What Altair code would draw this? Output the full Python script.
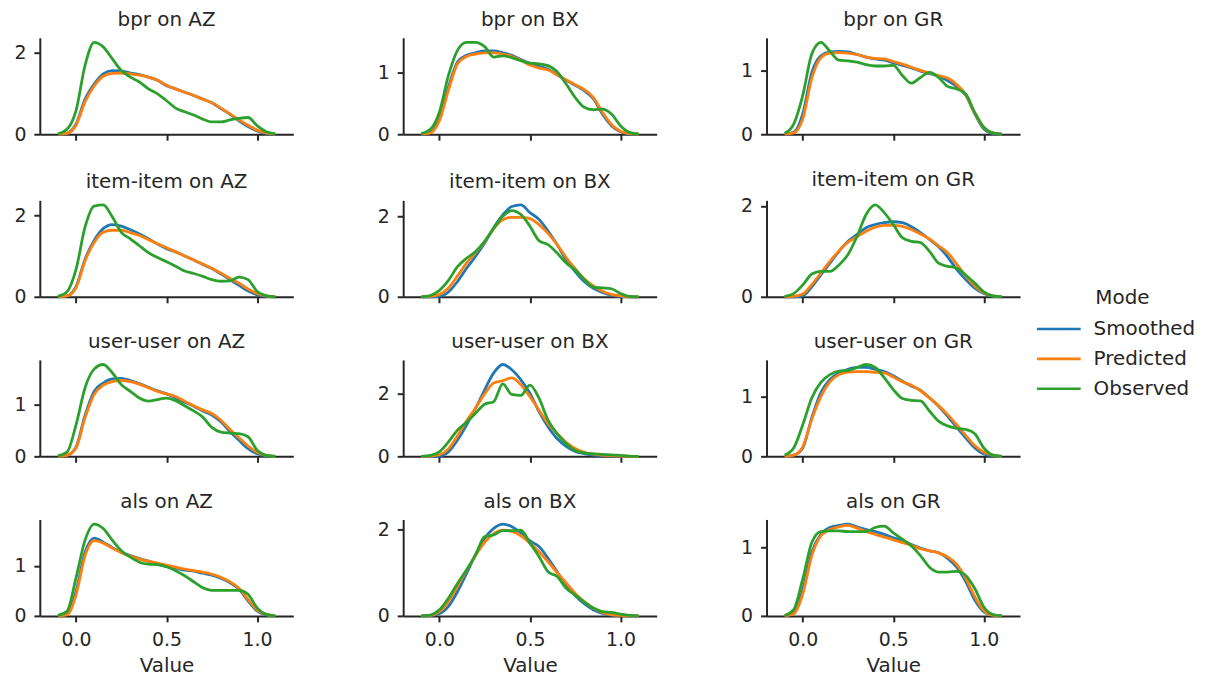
import altair as alt
import pandas as pd

# ---------------- data ----------------
X_GRID = [-0.10, -0.05, 0.00, 0.05, 0.10, 0.15, 0.20, 0.25, 0.30, 0.35, 0.40, 0.45,
          0.50, 0.55, 0.60, 0.65, 0.70, 0.75, 0.80, 0.85, 0.90, 0.95, 1.00, 1.05, 1.10]

MODES = ["Smoothed", "Predicted", "Observed"]
COLORS = ["#1f77b4", "#ff7f0e", "#2ca02c"]

PANEL_TITLES = [
    "bpr on AZ", "bpr on BX", "bpr on GR",
    "item-item on AZ", "item-item on BX", "item-item on GR",
    "user-user on AZ", "user-user on BX", "user-user on GR",
    "als on AZ", "als on BX", "als on GR",
]

Y_TICKS = [[0, 2], [0, 1], [0, 1],
           [0, 2], [0, 2], [0, 2],
           [0, 1], [0, 2], [0, 1],
           [0, 1], [0, 2], [0, 1]]

bpr_AZ_s = [0, 0.02, 0.25, 0.86, 1.23, 1.48, 1.56, 1.55, 1.50, 1.46, 1.40, 1.32, 1.19, 1.11, 1.03, 0.95, 0.86, 0.77, 0.63, 0.49, 0.33, 0.19, 0.08, 0.02, 0]
bpr_AZ_p = [0, 0.02, 0.22, 0.80, 1.18, 1.42, 1.49, 1.50, 1.48, 1.45, 1.40, 1.32, 1.20, 1.11, 1.03, 0.95, 0.86, 0.77, 0.64, 0.50, 0.35, 0.22, 0.10, 0.03, 0]
bpr_AZ_o = [0.01, 0.12, 0.58, 1.69, 2.25, 2.14, 1.85, 1.56, 1.40, 1.28, 1.11, 0.99, 0.82, 0.64, 0.55, 0.47, 0.37, 0.30, 0.30, 0.35, 0.39, 0.41, 0.21, 0.06, 0.01]

bpr_BX_s = [0, 0.03, 0.25, 0.77, 1.18, 1.29, 1.33, 1.36, 1.36, 1.33, 1.29, 1.22, 1.16, 1.11, 1.06, 0.97, 0.88, 0.80, 0.71, 0.58, 0.33, 0.14, 0.04, 0.005, 0]
bpr_BX_p = [0, 0.02, 0.22, 0.72, 1.15, 1.27, 1.31, 1.33, 1.33, 1.31, 1.27, 1.21, 1.13, 1.08, 1.05, 0.97, 0.89, 0.81, 0.73, 0.60, 0.36, 0.16, 0.05, 0.01, 0]
bpr_BX_o = [0.01, 0.08, 0.36, 0.96, 1.37, 1.50, 1.50, 1.43, 1.26, 1.28, 1.25, 1.20, 1.16, 1.15, 1.12, 1.02, 0.82, 0.60, 0.44, 0.40, 0.41, 0.33, 0.14, 0.03, 0]

bpr_GR_s = [0, 0.03, 0.32, 0.97, 1.23, 1.29, 1.30, 1.29, 1.25, 1.21, 1.18, 1.16, 1.12, 1.08, 1.04, 0.99, 0.95, 0.91, 0.84, 0.75, 0.61, 0.32, 0.08, 0.01, 0]
bpr_GR_p = [0, 0.02, 0.24, 0.88, 1.20, 1.27, 1.28, 1.27, 1.25, 1.21, 1.19, 1.18, 1.14, 1.10, 1.05, 1.00, 0.96, 0.92, 0.88, 0.78, 0.62, 0.33, 0.10, 0.02, 0]
bpr_GR_o = [0.015, 0.16, 0.61, 1.26, 1.44, 1.30, 1.16, 1.15, 1.13, 1.09, 1.07, 1.07, 1.08, 0.92, 0.80, 0.89, 0.97, 0.89, 0.75, 0.71, 0.63, 0.34, 0.11, 0.02, 0]

ii_AZ_s = [0, 0.02, 0.25, 0.92, 1.38, 1.67, 1.77, 1.73, 1.64, 1.54, 1.42, 1.29, 1.18, 1.10, 1.00, 0.90, 0.79, 0.69, 0.56, 0.42, 0.28, 0.14, 0.05, 0.01, 0]
ii_AZ_p = [0, 0.02, 0.22, 0.88, 1.33, 1.58, 1.63, 1.63, 1.57, 1.50, 1.40, 1.30, 1.20, 1.10, 1.00, 0.90, 0.80, 0.70, 0.58, 0.45, 0.33, 0.19, 0.08, 0.02, 0]
ii_AZ_o = [0.01, 0.12, 0.67, 1.71, 2.22, 2.25, 1.96, 1.58, 1.42, 1.25, 1.08, 0.96, 0.86, 0.75, 0.63, 0.57, 0.50, 0.42, 0.38, 0.39, 0.48, 0.42, 0.13, 0.03, 0]

ii_BX_s = [0, 0, 0.01, 0.12, 0.38, 0.71, 1.01, 1.34, 1.72, 2.04, 2.25, 2.29, 2.10, 1.93, 1.64, 1.30, 0.92, 0.63, 0.38, 0.21, 0.11, 0.04, 0.01, 0, 0]
ii_BX_p = [0, 0.01, 0.06, 0.22, 0.52, 0.84, 1.10, 1.37, 1.70, 1.92, 1.98, 1.98, 1.95, 1.80, 1.58, 1.30, 0.98, 0.70, 0.45, 0.27, 0.14, 0.06, 0.02, 0, 0]
ii_BX_o = [0, 0.03, 0.16, 0.41, 0.75, 0.96, 1.13, 1.38, 1.71, 2.01, 2.15, 2.05, 1.76, 1.40, 1.30, 1.09, 0.84, 0.67, 0.43, 0.24, 0.22, 0.20, 0.08, 0.01, 0]

ii_GR_s = [0, 0, 0.02, 0.22, 0.48, 0.74, 1.00, 1.22, 1.37, 1.52, 1.59, 1.63, 1.65, 1.63, 1.54, 1.41, 1.26, 1.10, 0.88, 0.60, 0.38, 0.19, 0.07, 0.01, 0]
ii_GR_p = [0, 0.01, 0.06, 0.27, 0.52, 0.78, 1.01, 1.20, 1.32, 1.44, 1.53, 1.57, 1.57, 1.55, 1.48, 1.38, 1.27, 1.12, 0.97, 0.72, 0.46, 0.24, 0.09, 0.02, 0]
ii_GR_o = [0.01, 0.07, 0.26, 0.50, 0.56, 0.56, 0.70, 0.93, 1.33, 1.81, 2.02, 1.85, 1.59, 1.30, 1.22, 1.19, 1.00, 0.74, 0.67, 0.63, 0.48, 0.30, 0.11, 0.02, 0]

uu_AZ_s = [0, 0.02, 0.18, 0.80, 1.26, 1.42, 1.50, 1.51, 1.47, 1.41, 1.34, 1.27, 1.21, 1.13, 1.05, 0.97, 0.88, 0.80, 0.67, 0.48, 0.31, 0.15, 0.05, 0.01, 0]
uu_AZ_p = [0, 0.02, 0.16, 0.75, 1.20, 1.38, 1.45, 1.47, 1.45, 1.40, 1.33, 1.26, 1.21, 1.16, 1.07, 0.98, 0.90, 0.83, 0.70, 0.52, 0.36, 0.20, 0.08, 0.02, 0]
uu_AZ_o = [0.01, 0.08, 0.61, 1.33, 1.69, 1.78, 1.62, 1.39, 1.26, 1.13, 1.07, 1.10, 1.13, 1.08, 0.98, 0.88, 0.76, 0.56, 0.47, 0.45, 0.44, 0.38, 0.12, 0.02, 0]

uu_BX_s = [0, 0, 0.01, 0.14, 0.52, 1.00, 1.54, 2.13, 2.67, 2.94, 2.77, 2.45, 2.02, 1.43, 0.95, 0.57, 0.32, 0.16, 0.09, 0.04, 0.02, 0.01, 0, 0, 0]
uu_BX_p = [0, 0.01, 0.05, 0.24, 0.66, 1.13, 1.55, 2.00, 2.35, 2.42, 2.51, 2.29, 1.91, 1.48, 1.05, 0.73, 0.45, 0.25, 0.13, 0.07, 0.04, 0.02, 0.01, 0, 0]
uu_BX_o = [0, 0.03, 0.14, 0.46, 0.84, 1.09, 1.38, 1.67, 1.75, 2.32, 1.98, 1.95, 2.28, 1.86, 1.16, 0.73, 0.41, 0.19, 0.11, 0.08, 0.06, 0.05, 0.03, 0.01, 0]

uu_GR_s = [0, 0.02, 0.14, 0.65, 1.07, 1.29, 1.40, 1.46, 1.49, 1.49, 1.46, 1.42, 1.35, 1.26, 1.18, 1.11, 0.98, 0.84, 0.67, 0.49, 0.31, 0.14, 0.04, 0.01, 0]
uu_GR_p = [0, 0.02, 0.16, 0.62, 1.00, 1.25, 1.37, 1.41, 1.42, 1.42, 1.41, 1.40, 1.33, 1.25, 1.19, 1.10, 0.98, 0.85, 0.70, 0.53, 0.35, 0.18, 0.07, 0.02, 0]
uu_GR_o = [0.02, 0.14, 0.53, 0.98, 1.24, 1.37, 1.43, 1.44, 1.49, 1.54, 1.49, 1.32, 1.12, 0.97, 0.94, 0.93, 0.76, 0.59, 0.51, 0.47, 0.45, 0.38, 0.14, 0.02, 0]

als_AZ_s = [0, 0.03, 0.49, 1.27, 1.55, 1.47, 1.36, 1.27, 1.20, 1.14, 1.09, 1.03, 0.98, 0.95, 0.91, 0.89, 0.85, 0.81, 0.75, 0.66, 0.53, 0.30, 0.10, 0.02, 0]
als_AZ_p = [0, 0.02, 0.42, 1.20, 1.50, 1.45, 1.35, 1.26, 1.19, 1.13, 1.09, 1.05, 1.01, 0.97, 0.93, 0.90, 0.87, 0.83, 0.77, 0.68, 0.55, 0.33, 0.12, 0.03, 0]
als_AZ_o = [0.01, 0.09, 0.76, 1.51, 1.83, 1.74, 1.51, 1.30, 1.17, 1.07, 1.03, 1.02, 0.98, 0.90, 0.80, 0.68, 0.56, 0.51, 0.51, 0.51, 0.51, 0.43, 0.16, 0.03, 0]

als_BX_s = [0, 0.01, 0.05, 0.22, 0.56, 0.98, 1.42, 1.79, 2.02, 2.12, 2.06, 1.92, 1.73, 1.60, 1.33, 1.02, 0.72, 0.47, 0.28, 0.14, 0.06, 0.02, 0.01, 0, 0]
als_BX_p = [0, 0.01, 0.10, 0.33, 0.68, 1.05, 1.40, 1.70, 1.90, 1.98, 1.95, 1.85, 1.68, 1.48, 1.25, 1.00, 0.76, 0.52, 0.33, 0.18, 0.08, 0.03, 0.01, 0, 0]
als_BX_o = [0, 0.02, 0.14, 0.41, 0.75, 1.06, 1.41, 1.83, 1.87, 1.97, 1.97, 1.98, 1.68, 1.37, 1.02, 0.91, 0.64, 0.48, 0.32, 0.18, 0.10, 0.08, 0.04, 0.01, 0]

als_GR_s = [0, 0.04, 0.38, 0.93, 1.19, 1.29, 1.32, 1.34, 1.30, 1.26, 1.23, 1.19, 1.14, 1.10, 1.04, 0.99, 0.95, 0.92, 0.84, 0.71, 0.50, 0.23, 0.06, 0.01, 0]
als_GR_p = [0, 0.03, 0.32, 0.88, 1.17, 1.26, 1.30, 1.32, 1.28, 1.23, 1.19, 1.15, 1.11, 1.07, 1.03, 0.98, 0.95, 0.92, 0.86, 0.75, 0.55, 0.28, 0.08, 0.01, 0]
als_GR_o = [0.005, 0.09, 0.54, 1.07, 1.23, 1.24, 1.24, 1.23, 1.23, 1.23, 1.29, 1.31, 1.21, 1.12, 1.02, 0.88, 0.71, 0.64, 0.64, 0.65, 0.59, 0.40, 0.13, 0.02, 0]

PANEL_CURVES = [
    (bpr_AZ_s, bpr_AZ_p, bpr_AZ_o), (bpr_BX_s, bpr_BX_p, bpr_BX_o), (bpr_GR_s, bpr_GR_p, bpr_GR_o),
    (ii_AZ_s, ii_AZ_p, ii_AZ_o), (ii_BX_s, ii_BX_p, ii_BX_o), (ii_GR_s, ii_GR_p, ii_GR_o),
    (uu_AZ_s, uu_AZ_p, uu_AZ_o), (uu_BX_s, uu_BX_p, uu_BX_o), (uu_GR_s, uu_GR_p, uu_GR_o),
    (als_AZ_s, als_AZ_p, als_AZ_o), (als_BX_s, als_BX_p, als_BX_o), (als_GR_s, als_GR_p, als_GR_o),
]

# ---------------- chart ----------------
TEXT = "#262626"
FONT = "DejaVu Sans"

color_enc = alt.Color(
    "Mode:N",
    scale=alt.Scale(domain=MODES, range=COLORS),
    legend=alt.Legend(
        orient="none", legendX=1015, legendY=252,
        title="Mode", titleFontSize=20, titleFont=FONT, titleFontWeight="normal",
        titleColor=TEXT, titleAnchor="middle", titlePadding=11,
        labelFontSize=20, labelFont=FONT, labelColor=TEXT, labelOffset=25,
        symbolType="M-4.4,0H4.4", symbolSize=100, symbolStrokeWidth=2.6,
        rowPadding=10, padding=0,
    ),
)


def make_panel(title, curves, yticks, bottom):
    n = len(X_GRID)
    df = pd.DataFrame({
        "x": X_GRID * 3,
        "y": list(curves[0]) + list(curves[1]) + list(curves[2]),
        "Mode": [MODES[0]] * n + [MODES[1]] * n + [MODES[2]] * n,
    })
    ytop = max(df["y"]) * 1.05
    x_enc = alt.X(
        "x:Q",
        title="Value" if bottom else None,
        scale=alt.Scale(domain=[-0.2, 1.2], nice=False, zero=False),
        axis=alt.Axis(values=[0, 0.5, 1.0], format=".1f", labels=bottom,
                      labelPadding=9, titlePadding=6),
    )
    y_enc = alt.Y(
        "y:Q",
        title=None,
        scale=alt.Scale(domain=[0, ytop], nice=False),
        axis=alt.Axis(values=yticks, format="d", labelPadding=8),
    )
    layers = [
        alt.Chart(df)
        .transform_filter(alt.datum.Mode == m)
        .mark_line(interpolate="monotone", strokeWidth=2.8)
        .encode(x=x_enc, y=y_enc, color=color_enc)
        for m in MODES
    ]
    return alt.layer(*layers).properties(
        width=255, height=97,
        title=alt.TitleParams(title, frame="group"),
    )


rows = []
for r in range(4):
    cells = []
    for c in range(3):
        i = r * 3 + c
        cells.append(make_panel(PANEL_TITLES[i], PANEL_CURVES[i], Y_TICKS[i], r == 3))
    rows.append(alt.hconcat(*cells, spacing=83.5))

chart = (
    alt.vconcat(*rows, spacing=25.5)
    .properties(padding={"left": 5, "top": 0, "right": 2, "bottom": 0})
    .configure(font=FONT)
    .configure_view(strokeWidth=0)
    .configure_axis(
        grid=False,
        domainColor=TEXT, domainWidth=2,
        tickColor=TEXT, tickWidth=2, tickSize=6,
        labelColor=TEXT, labelFont=FONT, labelFontSize=19,
        titleColor=TEXT, titleFont=FONT, titleFontSize=20, titleFontWeight="normal",
    )
    .configure_title(font=FONT, fontSize=20, fontWeight="normal", color=TEXT,
                     offset=7, anchor="middle")
)

chart.save("out.html", embed_options={"renderer": "svg", "actions": False})
